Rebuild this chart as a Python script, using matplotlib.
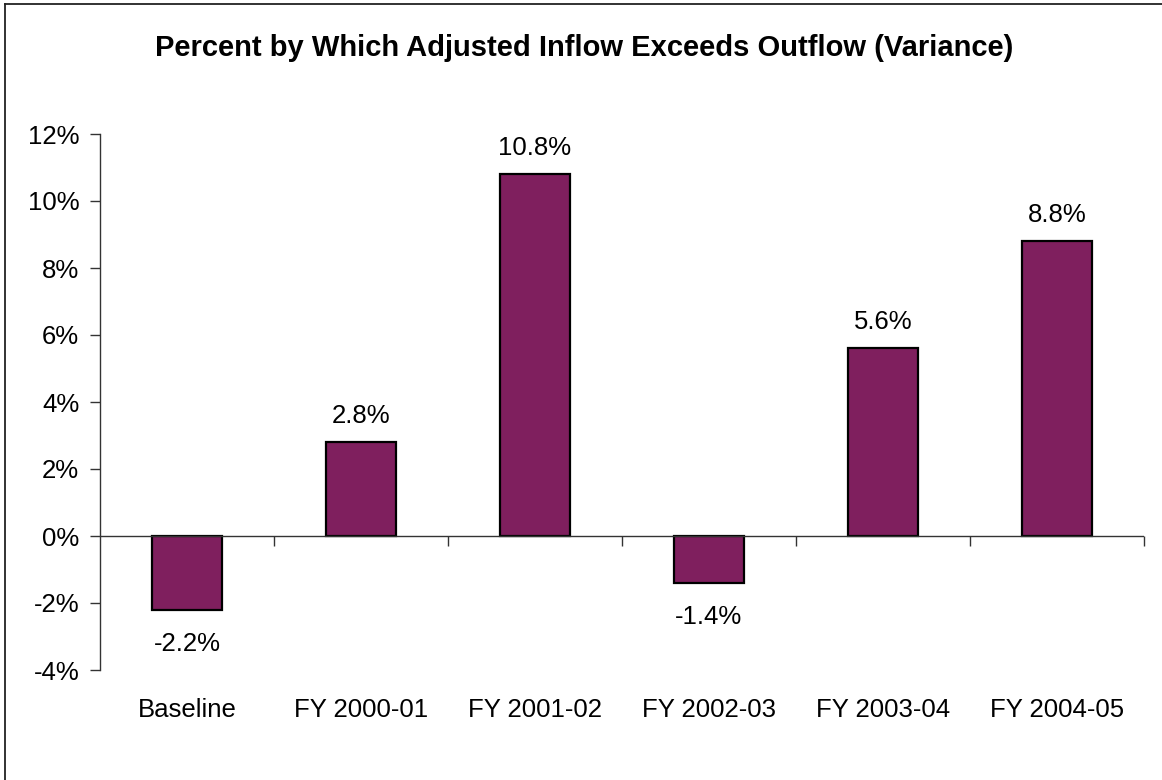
import matplotlib
matplotlib.use("Agg")
import matplotlib.pyplot as plt
from matplotlib.lines import Line2D
from matplotlib.ticker import FuncFormatter
import matplotlib.transforms as mtransforms

categories = ["Baseline", "FY 2000-01", "FY 2001-02", "FY 2002-03", "FY 2003-04", "FY 2004-05"]
variance = [-2.2, 2.8, 10.8, -1.4, 5.6, 8.8]
value_labels = ["-2.2%", "2.8%", "10.8%", "-1.4%", "5.6%", "8.8%"]
y_ticks = [-4, -2, 0, 2, 4, 6, 8, 10, 12]
title = "Percent by Which Adjusted Inflow Exceeds Outflow (Variance)"

plt.rcParams["font.family"] = ["Liberation Sans", "DejaVu Sans"]

W, H = 1162, 780
fig = plt.figure(figsize=(W / 100, H / 100), dpi=100)
fig.patch.set_facecolor("white")

ax = fig.add_axes([100 / W, 110 / H, (1144 - 100) / W, (670 - 134) / H])
ax.set_facecolor("white")

x = list(range(len(categories)))
ax.bar(x, variance, width=0.4, color="#7F1F5E", edgecolor="black", linewidth=1.6, zorder=3)

ax.set_xlim(-0.5, len(categories) - 0.5)
ax.set_ylim(-4, 12)

# y axis
ax.set_yticks(y_ticks)
ax.yaxis.set_major_formatter(FuncFormatter(lambda v, p: f"{v:.0f}%"))
ax.tick_params(axis="y", direction="out", length=7, width=1, pad=8, labelsize=18.5, colors="black")
ax.tick_params(axis="y", color="#333333")
for s in ["top", "right", "bottom"]:
    ax.spines[s].set_visible(False)
ax.spines["left"].set_linewidth(1)
ax.spines["left"].set_color("#333333")

# zero line with category boundary ticks
ax.set_xticks([])
ax.axhline(0, color="#333333", linewidth=1, zorder=4)
sec = ax.secondary_xaxis(0.25)
sec.set_xticks([i + 0.5 for i in range(len(categories))])
sec.set_xticklabels([])
sec.tick_params(direction="out", length=7, width=1, colors="#333333")
sec.spines["bottom"].set_visible(False)

# category labels below the plot area
trans = mtransforms.blended_transform_factory(ax.transData, ax.transAxes)
for i, c in enumerate(categories):
    ax.annotate(c, xy=(i, 0), xycoords=trans, xytext=(0, -47), textcoords="offset pixels",
                ha="center", va="baseline", fontsize=18.5)

# value labels
for i, (v, lab) in enumerate(zip(variance, value_labels)):
    off = 19 if v >= 0 else -41
    ax.annotate(lab, xy=(i, v), xytext=(0, off), textcoords="offset pixels",
                ha="center", va="baseline", fontsize=18.5)

fig.text(584 / W, 1 - 56 / H, title, ha="center", va="baseline", fontsize=21, fontweight="bold")

# chart frame
fig.add_artist(Line2D([4.5 / W, 1.01], [1 - 3.5 / H, 1 - 3.5 / H], transform=fig.transFigure,
                      color="#222222", linewidth=1.3))
fig.add_artist(Line2D([4.5 / W, 4.5 / W], [-0.01, 1 - 3.5 / H], transform=fig.transFigure,
                      color="#222222", linewidth=1.3))

fig.savefig("out.png", dpi=100, facecolor="white")
